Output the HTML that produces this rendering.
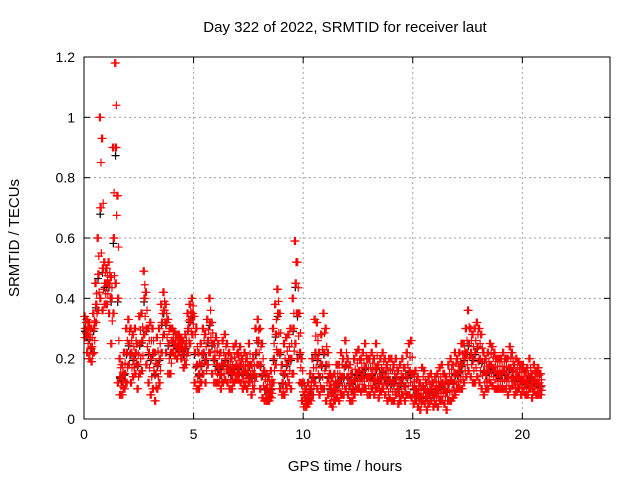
<!DOCTYPE html>
<html><head><meta charset="utf-8"><style>
html,body{margin:0;padding:0;background:#fff;}
svg{display:block;font-family:"Liberation Sans",sans-serif;}
</style></head><body>
<svg id="chart" width="640" height="480">
<text x="345" y="32" font-size="15" text-anchor="middle">Day 322 of 2022, SRMTID for receiver laut</text>
<text x="345" y="471" font-size="15" text-anchor="middle">GPS time / hours</text>
<text x="19" y="238" font-size="15" text-anchor="middle" transform="rotate(-90 19 238)">SRMTID / TECUs</text>
<g id="grid"></g>
<g id="ticks"></g>
<g id="pts"></g>
<rect x="84" y="57" width="526" height="362" fill="none" stroke="#000" stroke-width="1"/>
</svg>
<script>
const xTicks=[0,5,10,15,20];
const yTicks=[0,0.2,0.4,0.6,0.8,1,1.2];
const yTickLabels=["0","0.2","0.4","0.6","0.8","1","1.2"];
const timeStep=0.1;
const valsHi=[.34,.33,.32,.30,.35,.45,.60,1.0,.93,.52,
.50,.52,.47,.90,1.18,.74,.2,.18,.22,.3,
.33,.3,.28,.3,.25,.34,.35,.49,.42,.3,
.32,.3,.22,.27,.3,.38,.42,.38,.33,.3,
.3,.29,.28,.28,.27,.26,.28,.35,.38,.4,
.34,.3,.22,.25,.3,.28,.33,.4,.32,.25,
.27,.25,.22,.26,.28,.25,.22,.2,.24,.25,
.22,.24,.2,.22,.2,.25,.18,.2,.3,.33,
.3,.25,.16,.15,.14,.16,.3,.38,.43,.35,
.18,.25,.27,.28,.3,.4,.59,.52,.35,.2,
.12,.1,.12,.15,.2,.33,.32,.22,.28,.35,
.3,.22,.15,.14,.15,.18,.18,.22,.2,.26,
.2,.18,.15,.2,.22,.23,.2,.22,.25,.2,
.2,.22,.2,.25,.18,.2,.22,.2,.18,.2,
.2,.18,.2,.16,.18,.2,.17,.22,.25,.26,
.15,.16,.14,.12,.17,.16,.12,.14,.15,.12,
.14,.15,.17,.18,.15,.14,.18,.2,.18,.22,
.2,.22,.25,.25,.3,.36,.3,.28,.3,.32,
.3,.28,.22,.2,.22,.25,.24,.22,.2,.2,
.2,.22,.2,.2,.24,.22,.18,.2,.19,.18,
.18,.16,.17,.2,.15,.18,.16,.17,.15];
const valsMid=[.30,.28,.27,.24,.30,.38,.48,.7,.5,.45,
.45,.45,.40,.6,.9,.4,.14,.13,.15,.22,
.25,.22,.2,.22,.18,.25,.26,.4,.3,.22,
.2,.22,.15,.18,.2,.32,.36,.32,.25,.22,
.26,.25,.24,.25,.24,.22,.24,.3,.33,.35,
.22,.18,.15,.18,.22,.2,.26,.32,.25,.2,
.18,.17,.15,.18,.2,.18,.16,.15,.17,.18,
.17,.18,.15,.16,.15,.18,.14,.15,.22,.26,
.18,.15,.1,.1,.09,.1,.2,.28,.35,.22,
.12,.15,.18,.2,.2,.3,.45,.35,.22,.12,
.08,.06,.08,.1,.14,.22,.2,.14,.18,.22,
.18,.14,.1,.09,.1,.12,.12,.14,.14,.18,
.14,.12,.1,.13,.15,.16,.14,.15,.17,.14,
.14,.15,.13,.17,.12,.14,.16,.14,.12,.13,
.12,.12,.14,.1,.12,.14,.11,.14,.16,.15,
.1,.1,.08,.07,.11,.1,.07,.09,.1,.08,
.1,.1,.11,.12,.1,.09,.12,.13,.12,.15,
.15,.16,.18,.2,.22,.25,.22,.2,.22,.24,
.2,.19,.16,.15,.16,.18,.17,.16,.15,.15,
.15,.16,.15,.14,.17,.16,.13,.14,.14,.13,
.13,.12,.12,.14,.11,.13,.12,.12,.11];
const valsLo=[.27,.22,.2,.19,.22,.32,.36,.4,.36,.38,
.38,.35,.25,.35,.45,.12,.08,.08,.1,.12,
.18,.12,.14,.15,.1,.15,.16,.28,.18,.12,
.08,.1,.06,.1,.12,.22,.28,.22,.15,.15,
.22,.21,.2,.22,.2,.17,.18,.22,.25,.28,
.12,.1,.1,.12,.15,.12,.18,.22,.15,.12,
.12,.12,.1,.12,.13,.12,.1,.1,.12,.13,
.13,.12,.1,.11,.1,.12,.08,.1,.14,.18,
.1,.07,.06,.06,.06,.07,.12,.18,.22,.1,
.08,.08,.1,.12,.1,.15,.25,.2,.12,.06,
.04,.04,.05,.06,.08,.12,.1,.08,.1,.1,
.06,.08,.05,.04,.06,.07,.06,.08,.08,.1,
.08,.06,.06,.08,.1,.1,.09,.1,.1,.08,
.08,.1,.08,.1,.07,.09,.1,.08,.06,.07,
.06,.06,.08,.05,.06,.08,.06,.08,.08,.07,
.05,.06,.04,.03,.06,.05,.03,.05,.06,.04,
.05,.04,.06,.06,.05,.03,.06,.06,.07,.08,
.1,.1,.1,.12,.14,.16,.14,.12,.12,.14,
.12,.1,.08,.1,.1,.12,.11,.1,.1,.1,
.1,.1,.1,.08,.1,.11,.08,.09,.1,.08,
.09,.08,.08,.1,.07,.09,.08,.08,.08];

const NS='http://www.w3.org/2000/svg';
const L=84,R=610,T=57,B=419,XMAX=24,YMAX=1.2;
function xs(v){return L+(R-L)*v/XMAX;}
function ys(v){return B-(B-T)*v/YMAX;}
function mk(tag,attrs,parent){const e=document.createElementNS(NS,tag);for(const k in attrs)e.setAttribute(k,attrs[k]);parent.appendChild(e);return e;}
const grid=document.getElementById('grid'),ticks=document.getElementById('ticks'),pts=document.getElementById('pts'),svg=document.getElementById('chart');
xTicks.forEach(t=>{
  const x=xs(t);
  if(t>0){const g=mk('line',{x1:x,x2:x,y1:T,y2:B,stroke:'#a0a0a0','stroke-dasharray':'2,3'},grid);
  
  }
  mk('line',{x1:x,x2:x,y1:B,y2:B-6,stroke:'#000'},ticks);
  mk('line',{x1:x,x2:x,y1:T,y2:T+6,stroke:'#000'},ticks);
  const tx=mk('text',{x:x,y:B+20,'font-size':14,'text-anchor':'middle'},svg);
  tx.textContent=t;
  
  
});
yTicks.forEach((t,i)=>{
  const y=ys(t);
  if(t>0&&t<YMAX){const g=mk('line',{x1:L,x2:R,y1:y,y2:y,stroke:'#a0a0a0','stroke-dasharray':'2,3'},grid);
  
  }
  mk('line',{x1:L,x2:L+6,y1:y,y2:y,stroke:'#000'},ticks);
  mk('line',{x1:R,x2:R-6,y1:y,y2:y,stroke:'#000'},ticks);
  const tx=mk('text',{x:L-9,y:y+5,'font-size':14,'text-anchor':'end'},svg);
  tx.textContent=yTickLabels[i];
  
  
});
function cross(t,v,color){
  const x=xs(t),y=ys(v);
  const p=mk('path',{d:`M${x-4},${y}h8M${x},${y-4}v8`,stroke:color,'stroke-width':1.2,fill:'none'},pts);
  
  
}
valsMid.forEach((v,i)=>cross(i*timeStep+0.04,v*0.97,'#000'));
[0,0.05].forEach(off=>{
  valsHi.forEach((v,i)=>cross(i*timeStep+off,v,'#f00'));
  valsLo.forEach((v,i)=>cross(i*timeStep+off+0.02,v,'#f00'));
  valsMid.forEach((v,i)=>cross(i*timeStep+off+0.035,v,'#f00'));
});
valsHi.forEach((v,i)=>cross(i*timeStep+0.075,(v+valsMid[i])/2,'#f00'));
valsLo.forEach((v,i)=>cross(i*timeStep+0.09,(v+valsMid[i])/2,'#f00'));
</script>
</body></html>
